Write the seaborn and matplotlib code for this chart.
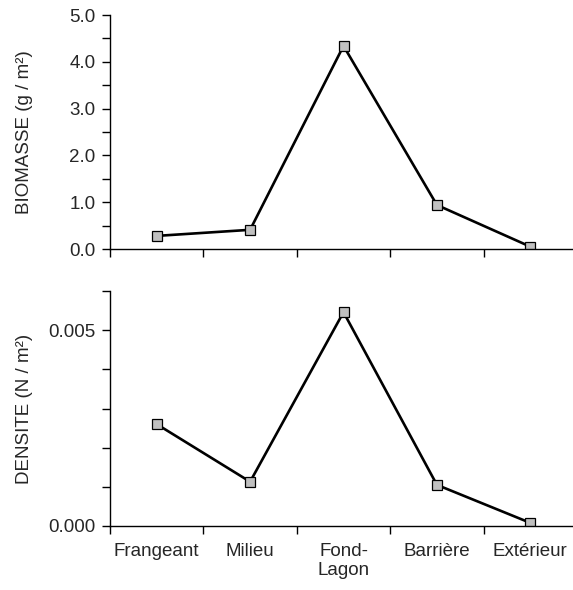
import matplotlib
matplotlib.use("Agg")
import matplotlib.pyplot as plt
import seaborn as sns
import pandas as pd
from matplotlib.ticker import MultipleLocator, FixedLocator

sites = ["Frangeant", "Milieu", "Fond-\nLagon", "Barrière", "Extérieur"]
biomasse = [0.28, 0.41, 4.34, 0.94, 0.05]
densite = [0.00260, 0.00113, 0.00546, 0.00105, 0.00008]

sns.set_style("ticks")
plt.rcParams["font.family"] = ["Liberation Sans", "DejaVu Sans"]
fs = 13.5

df = pd.DataFrame({"site": sites, "biomasse": biomasse, "densite": densite})

fig = plt.figure(figsize=(5.73, 5.9), dpi=100)
ax1 = fig.add_axes([110 / 573, 1 - 249 / 590, 1 - 110 / 573, 234 / 590])
ax2 = fig.add_axes([110 / 573, 1 - 526 / 590, 1 - 110 / 573, 235 / 590])

style = dict(color="black", linewidth=1.9, marker="s", markersize=6.5,
             markerfacecolor="#c0c0c0", markeredgecolor="black", markeredgewidth=0.9)

sns.lineplot(data=df, x="site", y="biomasse", sort=False, ax=ax1, **style)
sns.lineplot(data=df, x="site", y="densite", sort=False, ax=ax2, **style)

for ax in (ax1, ax2):
    sns.despine(ax=ax)
    ax.set_xlim(-0.5, 4.457)
    ax.xaxis.set_major_locator(FixedLocator([-0.5, 0.5, 1.5, 2.5, 3.5, 4.5]))
    ax.xaxis.set_minor_locator(FixedLocator(range(len(sites))))
    ax.set_xticklabels([""] * 6)
    ax.tick_params(axis="both", which="both", direction="out", length=5.5, width=1, color="black")
    ax.tick_params(axis="x", which="minor", length=0, pad=12)
    ax.tick_params(axis="y", which="major", labelsize=fs, pad=5)
    ax.set_xlabel("")
    for sp in ax.spines.values():
        sp.set_color("black")
        sp.set_linewidth(1)
    ax.grid(False)

ax1.set_xticklabels([], minor=True)
ax2.set_xticklabels(sites, minor=True, fontsize=fs, linespacing=1.15)

ax1.set_ylim(0, 5.0)
ax1.yaxis.set_major_locator(MultipleLocator(1.0))
ax1.yaxis.set_minor_locator(MultipleLocator(0.5))
ax1.yaxis.set_major_formatter(lambda v, p: f"{v:.1f}")
ax1.set_ylabel("BIOMASSE (g / m²)", fontsize=fs)
ax1.yaxis.set_label_coords(-77 / 463, 0.5)

ax2.set_ylim(0, 0.006)
ax2.yaxis.set_major_locator(MultipleLocator(0.005))
ax2.yaxis.set_minor_locator(MultipleLocator(0.001))
ax2.yaxis.set_major_formatter(lambda v, p: f"{v:.3f}")
ax2.set_ylabel("DENSITE (N / m²)", fontsize=fs)
ax2.yaxis.set_label_coords(-77 / 463, 0.5)

fig.savefig("out.png", dpi=100)
